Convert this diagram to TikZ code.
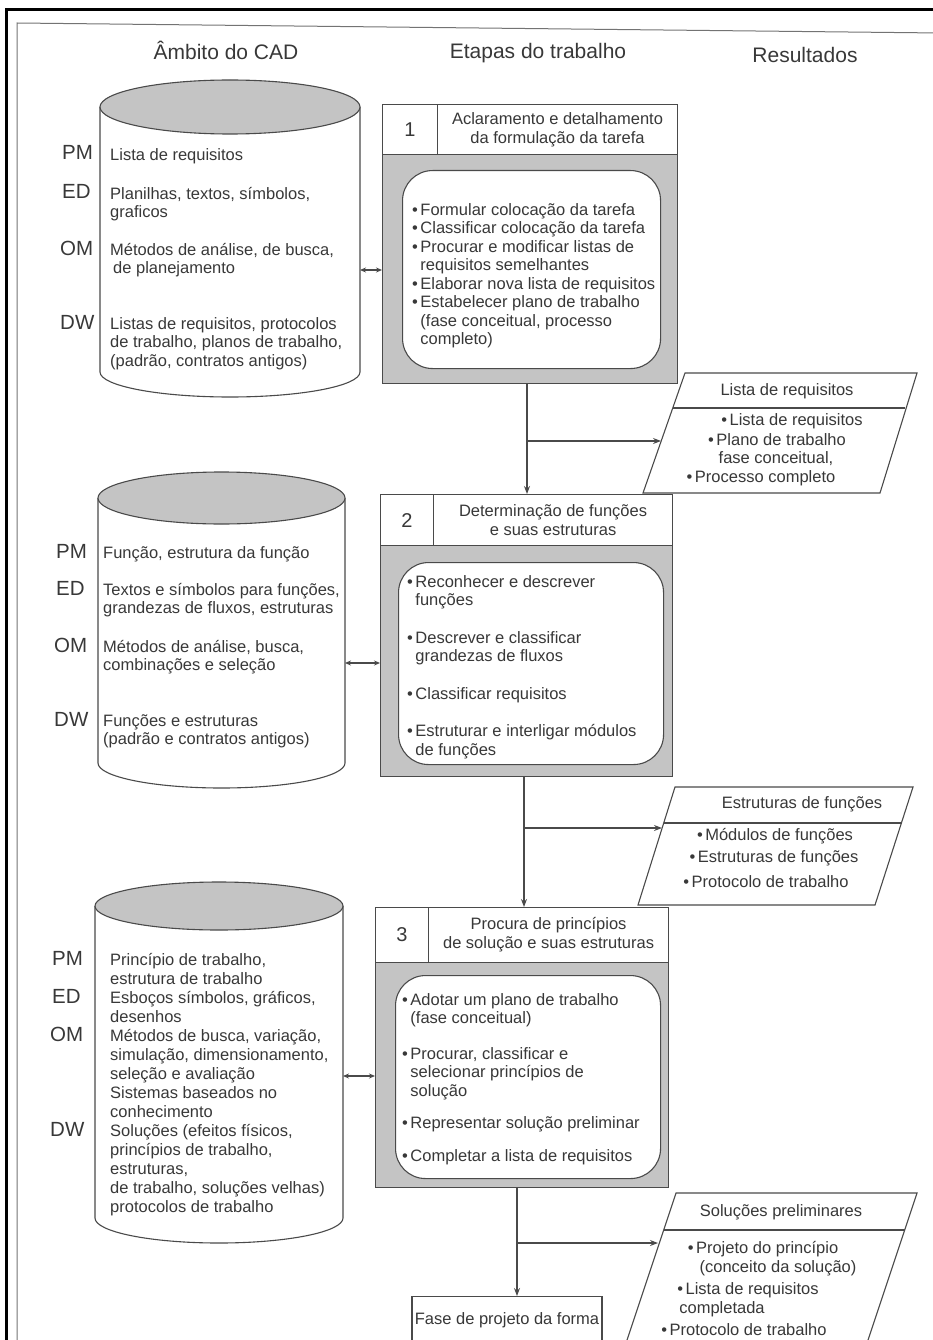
\documentclass[tikz,border=0pt]{standalone}
\usepackage{fontspec}
\setmainfont{Liberation Sans}
\usetikzlibrary{arrows.meta}
\definecolor{ink}{HTML}{383838}
\definecolor{edge}{HTML}{4A4A4A}
\definecolor{shade}{HTML}{C4C4C4}
\newcommand\bu{•\hspace{2.5pt}}
\newcommand\ind{\hphantom{•\hspace{2.5pt}}}
\newcommand\drawcyl[6]{%
  \pgfmathsetmacro\cxl{#1-#2}%
  \pgfmathsetmacro\cxr{#1+#2}%
  \pgfmathsetmacro\ckx{0.5523*#2}%
  \pgfmathsetmacro\cky{0.5523*#6}%
  \draw[ln] (\cxl,#3) -- (\cxl,#5) .. controls (\cxl,#5+\cky) and (#1-\ckx,#5+#6) .. (#1,#5+#6) .. controls (#1+\ckx,#5+#6) and (\cxr,#5+\cky) .. (\cxr,#5) -- (\cxr,#3);
  \filldraw[ln,fill=shade] (#1,#3) ellipse [x radius=#2pt, y radius=#4pt];
}
\begin{document}
\begin{tikzpicture}[x=1pt,y=-1pt,
  ln/.style={draw=edge,line width=1.1pt},
  txt/.style={inner sep=0pt,text=ink,font=\fontsize{16.5}{18.5}\selectfont,align=left},
  ctxt/.style={inner sep=0pt,text=ink,font=\fontsize{16.5}{18.5}\selectfont,align=center},
  lbl/.style={inner sep=0pt,text=ink,font=\fontsize{20.5}{22}\selectfont},
  hdr/.style={inner sep=0pt,text=ink,font=\fontsize{21}{24}\selectfont},
  cell/.style={ln,fill=white,inner sep=0pt,anchor=north west,text=ink,align=center,font=\fontsize{16.5}{19}\selectfont},
  numcell/.style={cell,font=\fontsize{20}{22}\selectfont},
  bodybox/.style={ln,fill=shade,inner sep=0pt,anchor=north west},
  inbox/.style={ln,fill=white,rounded corners=30pt,inner sep=0pt,anchor=north west},
  arr/.style={ln,-{Stealth[length=8pt,width=6pt]}},
  darr/.style={ln,{Stealth[length=6pt,width=5pt]}-{Stealth[length=6pt,width=5pt]}},
  para/.style={ln,fill=white}]
\useasboundingbox (0,0) rectangle (933,1340);
\clip (0,0) rectangle (933,1340);
% page frame
\draw[line width=3pt,black] (6,1350) -- (6,10) -- (940,10);
\draw[line width=1pt,black!55] (17,1350) -- (17,23) -- (940,33);
% headers
\node[hdr] (hA) at (226,50) {Âmbito do CAD};
\node[hdr] (hE) at (538,53) {Etapas do trabalho};
\node[hdr] (hR) at (805,55) {Resultados};

% ---------- cylinder 1
\drawcyl{230}{130}{107}{27}{372}{25}
\node[lbl,anchor=base west] (c1pm) at (62,160) {PM};
\node[lbl,anchor=base west] (c1ed) at (62,199) {ED};
\node[lbl,anchor=base west] (c1om) at (60,255) {OM};
\node[lbl,anchor=base west] (c1dw) at (60,329) {DW};
\node[txt,anchor=north west] (c1a) at (110,147) {\strut Lista de requisitos};
\node[txt,anchor=north west] (c1b) at (110,186) {\strut Planilhas, textos, símbolos,\\graficos};
\node[txt,anchor=north west] (c1c) at (110,242) {\strut Métodos de análise, de busca,\\\hspace{3pt}de planejamento};
\node[txt,anchor=north west] (c1d) at (110,316) {\strut Listas de requisitos, protocolos\\de trabalho, planos de trabalho,\\(padrão, contratos antigos)};

% ---------- box 1
\node[numcell,minimum width=55pt,minimum height=50pt] (n1) at (382,104) {1};
\node[cell,minimum width=240pt,minimum height=50pt] (t1) at (437,104) {Aclaramento e detalhamento\\da formulação da tarefa};
\node[bodybox,minimum width=295pt,minimum height=229pt] (b1) at (382,154) {};
\node[inbox,minimum width=258pt,minimum height=198pt] (i1) at (402,170) {};
\node[txt,anchor=north west] (i1t) at (412,202) {\strut\bu Formular colocação da tarefa\\\bu Classificar colocação da tarefa\\\bu Procurar e modificar listas de\\\ind requisitos semelhantes\\\bu Elaborar nova lista de requisitos\\\bu Estabelecer plano de trabalho\\\ind (fase conceitual, processo\\\ind completo)};
\coordinate (c1e) at (360,270);
\draw[darr] (c1e) -- (c1e -| b1.west);

% ---------- result 1
\draw[para] (685,373) -- (917,373) -- (880,493) -- (643,493) -- cycle;
\draw[ln] (673,408) -- (905,408);
\node[ctxt] (r1t) at (787,391) {Lista de requisitos};
\node[ctxt] (r1a) at (792,421) {\bu Lista de requisitos};
\node[ctxt] (r1b) at (777,440) {\bu Plano de trabalho};
\node[ctxt] (r1c) at (776,459) {fase conceitual,};
\node[ctxt] (r1d) at (761,478) {\bu Processo completo};

% ---------- cylinder 2
\drawcyl{221.5}{123.5}{498}{26}{763}{25}
\node[lbl,anchor=base west] (c2pm) at (56,558) {PM};
\node[lbl,anchor=base west] (c2ed) at (56,595) {ED};
\node[lbl,anchor=base west] (c2om) at (54,652) {OM};
\node[lbl,anchor=base west] (c2dw) at (54,726) {DW};
\node[txt,anchor=north west] (c2a) at (103,545) {\strut Função, estrutura da função};
\node[txt,anchor=north west] (c2b) at (103,582) {\strut Textos e símbolos para funções,\\grandezas de fluxos, estruturas};
\node[txt,anchor=north west] (c2c) at (103,639) {\strut Métodos de análise, busca,\\combinações e seleção};
\node[txt,anchor=north west] (c2d) at (103,713) {\strut Funções e estruturas\\(padrão e contratos antigos)};

% ---------- box 2
\node[numcell,minimum width=53pt,minimum height=51pt] (n2) at (380,494) {2};
\node[cell,minimum width=239pt,minimum height=51pt] (t2) at (433,494) {Determinação de funções\\e suas estruturas};
\node[bodybox,minimum width=292pt,minimum height=231pt] (b2) at (380,545) {};
\node[inbox,minimum width=265pt,minimum height=202pt] (i2) at (398,562) {};
\node[txt,anchor=north west] (i2t) at (407,574) {\strut\bu Reconhecer e descrever\\\ind funções\\[19pt]\bu Descrever e classificar\\\ind grandezas de fluxos\\[19pt]\bu Classificar requisitos\\[19pt]\bu Estruturar e interligar módulos\\\ind de funções};
\coordinate (c2e) at (345,663);
\draw[darr] (c2e) -- (c2e -| b2.west);

% connectors 1 -> 2
\coordinate (v1) at (527,0);
\draw[arr] (v1 |- b1.south) -- (v1 |- t2.north);
\coordinate (p1in) at (661,441);
\draw[arr] (v1 |- p1in) -- (p1in);

% ---------- result 2
\draw[para] (675,787) -- (913,787) -- (875,905) -- (638,905) -- cycle;
\draw[ln] (664,823) -- (902,823);
\node[ctxt] (r2t) at (802,804) {Estruturas de funções};
\node[ctxt] (r2a) at (775,836) {\bu Módulos de funções};
\node[ctxt] (r2b) at (774,858) {\bu Estruturas de funções};
\node[ctxt] (r2c) at (766,882) {\bu Protocolo de trabalho};

% ---------- cylinder 3
\drawcyl{219}{124}{906}{24}{1218}{25}
\node[lbl,anchor=base west] (c3pm) at (52,965) {PM};
\node[lbl,anchor=base west] (c3ed) at (52,1003) {ED};
\node[lbl,anchor=base west] (c3om) at (50,1041) {OM};
\node[lbl,anchor=base west] (c3dw) at (50,1136) {DW};
\node[txt,anchor=north west,font=\fontsize{16.5}{19}\selectfont] (c3a) at (110,952) {\strut Princípio de trabalho,\\estrutura de trabalho\\Esboços símbolos, gráficos,\\desenhos\\Métodos de busca, variação,\\simulação, dimensionamento,\\seleção e avaliação\\Sistemas baseados no\\conhecimento\\Soluções (efeitos físicos,\\princípios de trabalho,\\estruturas,\\de trabalho, soluções velhas)\\protocolos de trabalho};

% ---------- box 3
\node[numcell,minimum width=53pt,minimum height=55pt] (n3) at (375,907) {3};
\node[cell,minimum width=240pt,minimum height=55pt] (t3) at (428,907) {Procura de princípios\\de solução e suas estruturas};
\node[bodybox,minimum width=293pt,minimum height=225pt] (b3) at (375,962) {};
\node[inbox,minimum width=265pt,minimum height=203pt] (i3) at (395,975) {};
\node[txt,anchor=north west] (i3t) at (402,992) {\strut\bu Adotar um plano de trabalho\\\ind (fase conceitual)\\[17pt]\bu Procurar, classificar e\\\ind selecionar princípios de\\\ind solução\\[14pt]\bu Representar solução preliminar\\[14pt]\bu Completar a lista de requisitos};
\coordinate (c3e) at (343,1076);
\draw[darr] (c3e) -- (c3e -| b3.west);

% connectors 2 -> 3
\coordinate (v2) at (524,0);
\draw[arr] (v2 |- b2.south) -- (v2 |- t3.north);
\coordinate (p2in) at (662,828);
\draw[arr] (v2 |- p2in) -- (p2in);

% ---------- result 3 and next phase
\draw[para] (625,1346) -- (676,1193) -- (917,1193) -- (866,1346) -- cycle;
\draw[ln] (664,1230) -- (905,1230);
\node[ctxt] (r3t) at (781,1212) {Soluções preliminares};
\node[ctxt] (r3a) at (763,1249) {\bu Projeto do princípio};
\node[ctxt] (r3b) at (778,1268) {(conceito da solução)};
\node[ctxt] (r3c) at (748,1290) {\bu Lista de requisitos};
\node[ctxt] (r3d) at (722,1309) {completada};
\node[ctxt] (r3e) at (744,1330) {\bu Protocolo de trabalho};
\node[cell,anchor=north,minimum width=190pt,minimum height=48pt] (fp) at (507,1296) {Fase de projeto da forma};

\coordinate (v3) at (517,0);
\draw[arr] (v3 |- b3.south) -- (v3 |- fp.north);
\coordinate (p3in) at (658,1243);
\draw[arr] (v3 |- p3in) -- (p3in);
\end{tikzpicture}
\end{document}
